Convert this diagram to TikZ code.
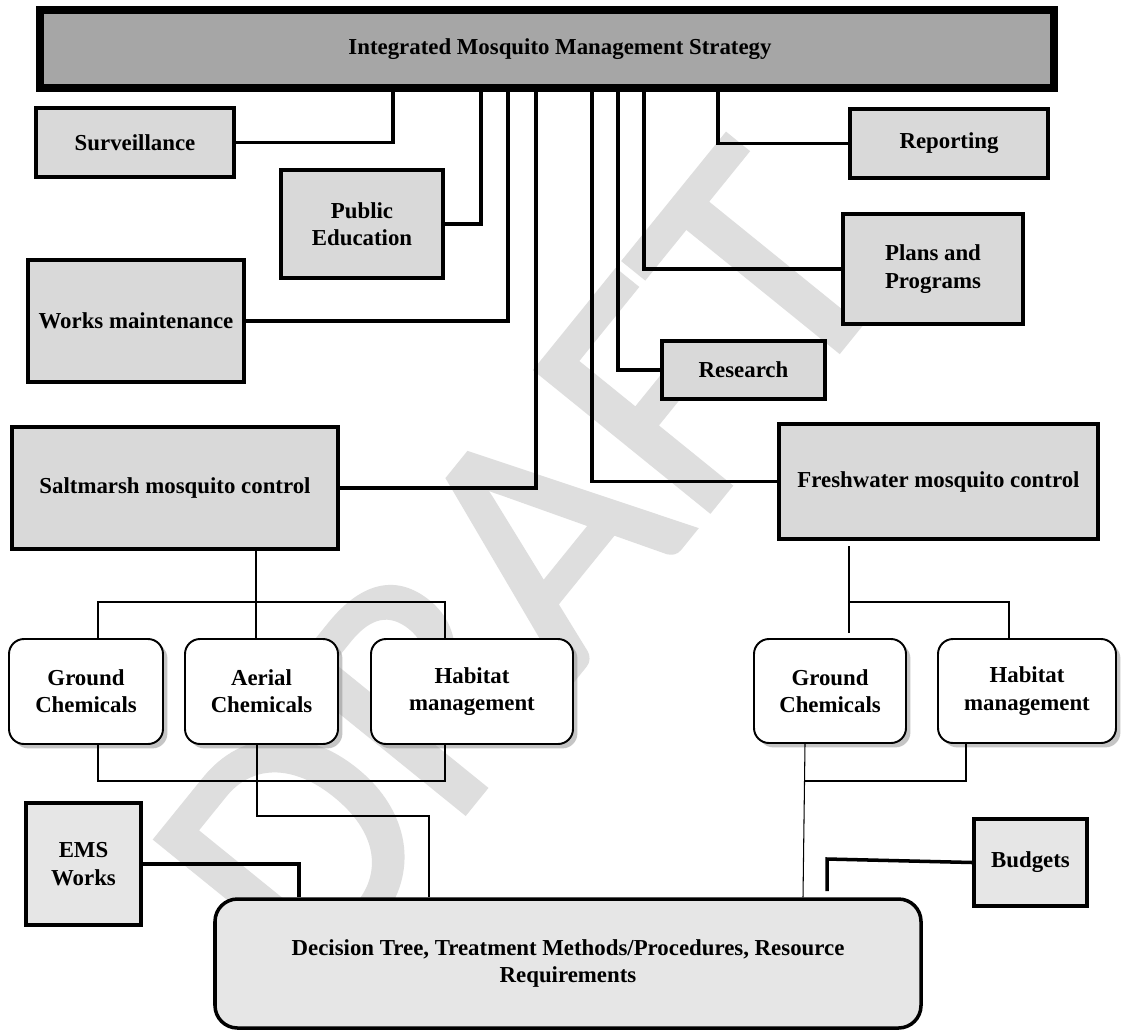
\documentclass[tikz,border=0pt]{standalone}
\usepackage{fontspec}
\setmainfont{Liberation Serif}
\newfontfamily\wmfont[FakeBold=1.5]{Carlito}
\usetikzlibrary{shadows}
\definecolor{topfill}{HTML}{A6A6A6}
\definecolor{midfill}{HTML}{D9D9D9}
\definecolor{lowfill}{HTML}{E6E6E6}
\definecolor{wm}{HTML}{DEDEDE}
\definecolor{shad}{HTML}{8C8C8C}
\newcommand{\bx}[7]{\node[#6, minimum width={(#4-#2)*0.02cm}, minimum height={(#5-#3)*0.02cm}] (#1) at ({(#2+#4)/2},{(#3+#5)/2}) {#7};}
\begin{document}
\begin{tikzpicture}[x=0.02cm,y=-0.02cm,
  lbl/.style={font=\fontsize{13}{15.5}\selectfont\bfseries, align=center, inner sep=0pt},
  graybox/.style={lbl, draw=black, line width=2pt, fill=midfill},
  topbox/.style={lbl, draw=black, line width=4.5pt, fill=topfill},
  lowbox/.style={lbl, draw=black, line width=2pt, fill=lowfill},
  roundbox/.style={lbl, draw=black, line width=1.1pt, fill=white, rounded corners=0.3cm,
    drop shadow={shadow xshift=2.5pt, shadow yshift=-2.5pt, fill=shad}},
  decbox/.style={lbl, draw=black, line width=2pt, fill=lowfill, rounded corners=0.45cm},
  link/.style={draw=black, line width=2pt},
  tlink/.style={draw=black, line width=0.6pt},
]
\path[use as bounding box, fill=white] (0,0) rectangle (1122,1032);
% watermark
\node[rotate=51, text=wm, font=\wmfont\fontsize{198}{198}\selectfont, inner sep=0pt] (draft) at (522,565) {DRAFT};

\bx{top}{40}{10}{1054}{88}{topbox}{\raisebox{-2.3pt}{\hspace*{14.8pt}Integrated Mosquito Management Strategy}}
\bx{surv}{36}{108}{234}{177}{graybox}{Surveillance}
\bx{pubed}{281}{170}{443}{278}{graybox}{Public\\Education}
\bx{works}{28}{260}{244}{382}{graybox}{Works maintenance}
\bx{salt}{12}{427}{338}{549}{graybox}{Saltmarsh mosquito control}
\bx{fresh}{779}{424}{1098}{539}{graybox}{Freshwater mosquito control}
\bx{res}{662}{341}{825}{399}{graybox}{Research}
\bx{plans}{843}{214}{1023}{324}{graybox}{Plans and\\Programs}
\bx{rep}{850}{109}{1048}{178}{graybox}{Reporting}
\bx{ems}{26}{803}{141}{925}{lowbox}{EMS\\Works}
\bx{bud}{974}{819}{1087}{906}{lowbox}{Budgets}
\bx{dec}{215}{899}{921}{1028}{decbox}{Decision Tree, Treatment Methods/Procedures, Resource\\Requirements}
\bx{gS}{9}{639}{163}{744}{roundbox}{Ground\\Chemicals}
\bx{aS}{185}{639}{338}{744}{roundbox}{Aerial\\Chemicals}
\bx{hS}{371}{639}{573}{744}{roundbox}{Habitat\\management}
\bx{gF}{754}{639}{906}{743}{roundbox}{Ground\\Chemicals}
\bx{hF}{938}{639}{1116}{743}{roundbox}{Habitat\\management}

% junction coordinates
\coordinate (sj) at (256,602);
\coordinate (sl) at (98,602);
\coordinate (sr) at (445,602);
\coordinate (bl) at (98,781);
\coordinate (br) at (445,781);
\coordinate (am) at (257,816);
\coordinate (ar) at (429,816);
\coordinate (ft) at (849,546);
\coordinate (fb) at (849,633);
\coordinate (fj) at (849,602);
\coordinate (fr) at (1009,602);
\coordinate (hb) at (966,781);
\coordinate (gb) at (805,781);
\coordinate (bk) at (827,859);
\coordinate (be) at (827,891);

% connectors to the strategy box
\draw[link] (surv.east) -| (top.south -| 393,0);
\draw[link] (pubed.east) -| (top.south -| 481,0);
\draw[link] (works.east) -| (top.south -| 508,0);
\draw[link] (salt.east) -| (top.south -| 536,0);
\draw[link] (fresh.west) -| (top.south -| 592,0);
\draw[link] (res.west) -| (top.south -| 618,0);
\draw[link] (plans.west) -| (top.south -| 644,0);
\draw[link] (rep.west) -| (top.south -| 718,0);

% saltmarsh tree
\draw[tlink] (salt.south -| sj) -- (sj);
\draw[tlink] (gS.north -| sl) -- (sl) -- (sr) -- (hS.north -| sr);
\draw[tlink] (sj) -- (aS.north -| sj);
\draw[tlink] (gS.south -| bl) -- (bl) -- (br) -- (hS.south -| br);
\draw[tlink] (aS.south -| am) -- (am) -- (ar) -- (dec.north -| ar);

% freshwater tree
\draw[tlink] (ft) -- (fb);
\draw[tlink] (fj) -- (fr) -- (hF.north -| fr);
\draw[tlink] (gF.south -| 805,0) -- (dec.north -| 803,0);
\draw[tlink] (hF.south -| hb) -- (hb) -- (gb);

% EMS and budgets
\draw[link] (ems.east) -| (dec.north -| 299,0);
\draw[link] (bud.west) -- (bk) -- (be);
\end{tikzpicture}
\end{document}
